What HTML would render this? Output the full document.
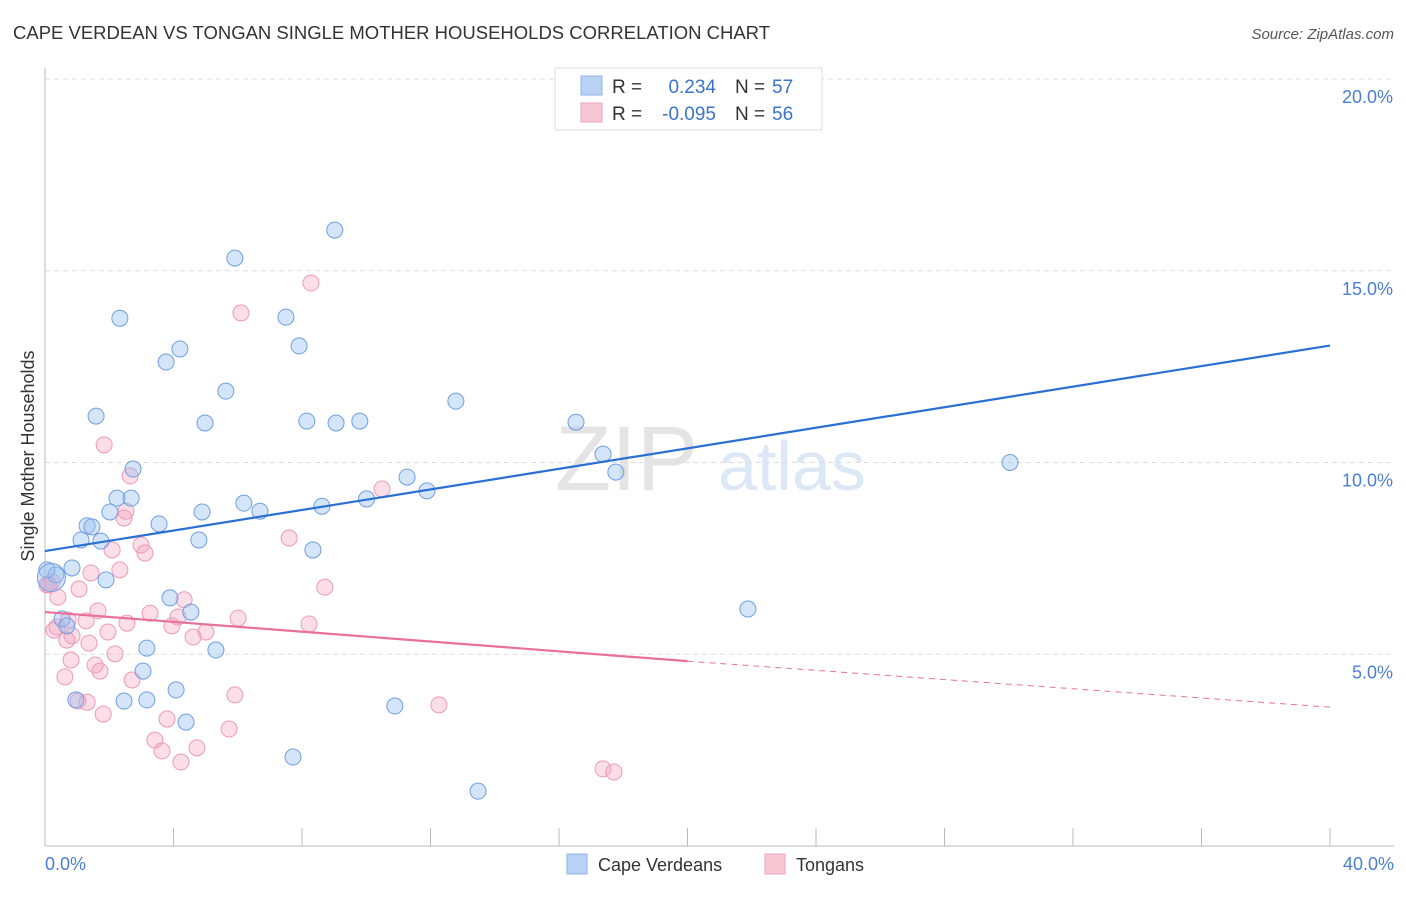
<!DOCTYPE html>
<html><head><meta charset="utf-8"><style>
body{margin:0;background:#fff;font-family:"Liberation Sans",sans-serif;}
svg text{font-family:"Liberation Sans",sans-serif;}
</style></head><body>
<svg id="c" width="1406" height="892">
<text x="13" y="39" font-size="18" fill="#333" textLength="757" lengthAdjust="spacingAndGlyphs">CAPE VERDEAN VS TONGAN SINGLE MOTHER HOUSEHOLDS CORRELATION CHART</text>
<text x="1394" y="39" font-size="15" fill="#555" font-style="italic" text-anchor="end">Source: ZipAtlas.com</text>
<text x="555" y="490" font-size="92" fill="#e4e4e4" font-family="Liberation Serif">ZIP</text>
<text x="718" y="490" font-size="70" fill="#dde8f6">atlas</text>
<g id="grid"></g>
<g id="axes"></g>
<g id="marks"></g>
<text transform="translate(34,456) rotate(-90)" font-size="18" fill="#333" text-anchor="middle">Single Mother Households</text>
<g>
<rect x="555" y="68" width="267" height="62" fill="#fff" stroke="#ddd"/>
<rect x="581" y="76" width="21" height="19" fill="#b7d2f4" stroke="#8fb4e8"/>
<rect x="581" y="103" width="21" height="19" fill="#f9c6d6" stroke="#f0a2bd"/>
<text x="612" y="93" font-size="19" fill="#333">R =</text>
<text x="716" y="93" font-size="19" fill="#3a72d0" text-anchor="end">0.234</text>
<text x="735" y="93" font-size="19" fill="#333">N =</text>
<text x="772" y="93" font-size="19" fill="#3a72d0">57</text>
<text x="612" y="120" font-size="19" fill="#333">R =</text>
<text x="716" y="120" font-size="19" fill="#3a72d0" text-anchor="end">-0.095</text>
<text x="735" y="120" font-size="19" fill="#333">N =</text>
<text x="772" y="120" font-size="19" fill="#3a72d0">56</text>
</g>
<g>
<rect x="567" y="854" width="20" height="20" fill="#b7d2f4" stroke="#8fb4e8"/>
<text x="598" y="871" font-size="18" fill="#333">Cape Verdeans</text>
<rect x="765" y="854" width="20" height="20" fill="#f9c6d6" stroke="#f0a2bd"/>
<text x="796" y="871" font-size="18" fill="#333">Tongans</text>
</g>
</svg>
<script>
const yTicks=[5,10,15,20];
const yTickLabels=["5.0%","10.0%","15.0%","20.0%"];
const xEndLabels=["0.0%","40.0%"];
const blueX=[2.33,5.91,9.02,7.50,4.20,3.77,7.91,5.63,1.59,4.98,8.15,9.06,9.80,12.79,16.53,17.37,17.77,11.27,11.89,10.01,30.04,2.74,2.24,2.68,6.19,4.89,6.69,8.62,2.02,3.55,1.31,1.46,1.12,1.74,4.79,8.34,0.84,0.34,0.06,1.90,3.89,4.54,0.53,0.68,3.17,5.32,3.05,4.08,0.96,2.46,3.17,4.39,10.89,7.72,13.48,21.88,0.2];
const blueY=[13.76,15.33,16.06,13.79,12.96,12.62,13.04,11.86,11.21,11.03,11.08,11.03,11.08,11.60,11.05,10.22,9.75,9.62,9.26,9.05,10.00,9.83,9.07,9.07,8.94,8.71,8.73,8.86,8.71,8.40,8.35,8.32,7.98,7.95,7.98,7.72,7.25,7.07,7.20,6.94,6.47,6.10,5.92,5.74,5.16,5.11,4.56,4.07,3.81,3.78,3.81,3.23,3.65,2.32,1.43,6.18,7.0];
const blueR=[8,8,8,8,8,8,8,8,8,8,8,8,8,8,8,8,8,8,8,8,8,8,8,8,8,8,8,8,8,8,8,8,8,8,8,8,8,8,8,8,8,8,8,8,8,8,8,8,8,8,8,8,8,8,8,8,14];
const pinkX=[8.28,6.10,1.84,2.65,2.52,2.46,10.49,7.60,2.99,2.09,3.11,1.43,2.33,8.71,1.06,0.40,0.12,4.33,1.65,3.27,6.01,0.72,1.28,0.37,8.22,2.55,4.14,3.95,1.96,0.28,0.84,5.01,4.61,0.68,1.37,2.18,0.81,1.56,1.71,0.62,2.71,5.91,1.03,1.31,1.81,3.80,12.26,5.73,3.42,4.73,3.64,4.23,17.37,17.71,0.06,0.22];
const pinkY=[14.68,13.90,10.46,9.65,8.73,8.55,9.31,8.03,7.85,7.72,7.64,7.12,7.20,6.75,6.70,6.49,6.81,6.42,6.13,6.07,5.94,5.89,5.87,5.71,5.79,5.81,5.97,5.74,5.58,5.63,5.48,5.58,5.45,5.37,5.29,5.01,4.85,4.72,4.56,4.41,4.33,3.94,3.78,3.75,3.44,3.31,3.68,3.05,2.76,2.56,2.48,2.19,2.01,1.93,6.81,6.89];
const blueTrend=[[0,7.69],[40,13.05]];
const pinkTrend=[[0,6.10],[20,4.82],[40,3.62]];
const L=45,R=1330,T=79,B=846;
const xs=v=>L+v/40*(R-L);
const ys=v=>B-v/20*(B-T);
const NS="http://www.w3.org/2000/svg";
function mk(tag,attrs,parent){const e=document.createElementNS(NS,tag);for(const k in attrs)e.setAttribute(k,attrs[k]);parent.appendChild(e);return e;}
const grid=document.getElementById('grid'),axes=document.getElementById('axes'),marks=document.getElementById('marks');
yTicks.forEach((t,i)=>{
 const g=mk('line',{x1:L,x2:1394,y1:ys(t),y2:ys(t),stroke:'#ddd','stroke-dasharray':'5,4'},grid);
 
 
 const tx=mk('text',{x:1393,y:ys(t)+24,'font-size':18,fill:'#4a7fd4','text-anchor':'end'},axes);
 tx.textContent=yTickLabels[i];
 
 
});
const yl=mk('line',{x1:L,x2:L,y1:68,y2:846,stroke:'#bbb'},axes);


const xl=mk('line',{x1:L,x2:1394,y1:846,y2:846,stroke:'#bbb'},axes);


for(let i=0;i<=10;i++){
 const tk=mk('line',{x1:xs(i*4),x2:xs(i*4),y1:828,y2:846,stroke:'#bbb'},axes);
 
 
}
[[0,'start',45],[40,'end',1394]].forEach((d,i)=>{
 const tx=mk('text',{x:d[2],y:870,'font-size':18,fill:'#4a7fd4','text-anchor':d[1]},axes);
 tx.textContent=xEndLabels[i];
 
 
});
pinkX.forEach((x,i)=>{
 const c=mk('circle',{cx:xs(x),cy:ys(pinkY[i]),r:8,fill:'rgba(244,160,188,0.35)',stroke:'#ee9ab6','stroke-width':1},marks);
 
 
});
blueX.forEach((x,i)=>{
 const c=mk('circle',{cx:xs(x),cy:ys(blueY[i]),r:blueR[i],fill:'rgba(150,190,240,0.4)',stroke:'#6e9fe2','stroke-width':1},marks);
 
 
});
const bt=mk('line',{x1:xs(blueTrend[0][0]),y1:ys(blueTrend[0][1]),x2:xs(blueTrend[1][0]),y2:ys(blueTrend[1][1]),stroke:'#2a6fd4','stroke-width':2.2},marks);


const pt=mk('line',{x1:xs(pinkTrend[0][0]),y1:ys(pinkTrend[0][1]),x2:xs(pinkTrend[1][0]),y2:ys(pinkTrend[1][1]),stroke:'#e8709a','stroke-width':2.2},marks);


const pd=mk('line',{x1:xs(pinkTrend[1][0]),y1:ys(pinkTrend[1][1]),x2:xs(pinkTrend[2][0]),y2:ys(pinkTrend[2][1]),stroke:'#e8709a','stroke-width':1,'stroke-dasharray':'6,5'},marks);


</script>
</body></html>
